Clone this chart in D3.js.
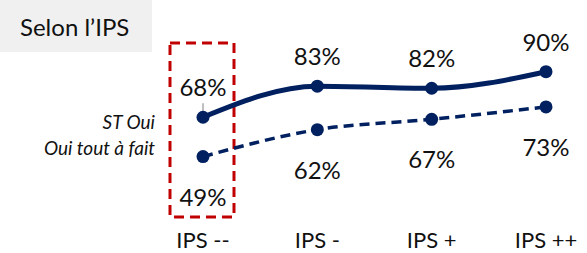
<!DOCTYPE html>
<html>
  <head>
    <meta charset="utf-8">
    <title>Selon l'IPS</title>
    <script src="https://d3js.org/d3.v7.min.js"></script>
    <style>
      body { margin: 0; background: #fff; }
      text { font-family: Lato, "Open Sans", sans-serif; fill: #111; }
    </style>
  </head>
  <body>
    <div class="chart"></div>
    <script>
      // data
      var categories = ["IPS --", "IPS -", "IPS +", "IPS ++"];
      var stOui = [68, 83, 82, 90];
      var ouiToutAFait = [49, 62, 67, 73];
      var seriesNames = ["ST Oui", "Oui tout à fait"];

      var width = 587, height = 253;
      var navy = "#002060";

      var svg = d3.select(".chart").append("svg")
        .attr("width", width)
        .attr("height", height);

      var x = d3.scalePoint()
        .domain(categories)
        .range([203, 546]);

      var y = d3.scaleLinear()
        .domain([0, 100])
        .range([258, 51]);

      // title box
      svg.append("rect")
        .attr("x", 0).attr("y", 0)
        .attr("width", 152).attr("height", 52)
        .attr("fill", "#f0f0f0");
      svg.append("text")
        .attr("x", 20).attr("y", 36)
        .style("font-size", "24px")
        .text("Selon l’IPS");

      // highlight box round first category
      svg.append("rect")
        .attr("x", x(categories[0]) - 33).attr("y", 43)
        .attr("width", 64).attr("height", 174)
        .attr("fill", "none")
        .attr("stroke", "#c00000")
        .attr("stroke-width", 3)
        .attr("stroke-dasharray", "10,6");

      var line = d3.line()
        .x(function(d, i) { return x(categories[i]); })
        .y(function(d) { return y(d); })
        .curve(d3.curveMonotoneX);

      // leader tick above first point
      svg.append("line")
        .attr("x1", x(categories[0])).attr("x2", x(categories[0]))
        .attr("y1", y(stOui[0]) - 14).attr("y2", y(stOui[0]) - 6)
        .attr("stroke", "#aaa").attr("stroke-width", 1.5);

      // solid series
      svg.append("path")
        .datum(stOui)
        .attr("d", line)
        .attr("fill", "none")
        .attr("stroke", navy)
        .attr("stroke-width", 5);

      svg.selectAll(".dot-a")
        .data(stOui)
        .enter().append("circle")
          .attr("cx", function(d, i) { return x(categories[i]); })
          .attr("cy", function(d) { return y(d); })
          .attr("r", 6.5)
          .attr("fill", navy);

      svg.selectAll(".lab-a")
        .data(stOui)
        .enter().append("text")
          .attr("x", function(d, i) { return x(categories[i]); })
          .attr("y", function(d) { return y(d) - 21; })
          .attr("text-anchor", "middle")
          .style("font-size", "24px")
          .text(function(d) { return d + "%"; });

      // dashed series
      svg.append("path")
        .datum(ouiToutAFait)
        .attr("d", line)
        .attr("fill", "none")
        .attr("stroke", navy)
        .attr("stroke-width", 3.5)
        .attr("stroke-dasharray", "10,6");

      svg.selectAll(".dot-b")
        .data(ouiToutAFait)
        .enter().append("circle")
          .attr("cx", function(d, i) { return x(categories[i]); })
          .attr("cy", function(d) { return y(d); })
          .attr("r", 6.5)
          .attr("fill", navy);

      svg.selectAll(".lab-b")
        .data(ouiToutAFait)
        .enter().append("text")
          .attr("x", function(d, i) { return x(categories[i]); })
          .attr("y", function(d) { return y(d) + 49; })
          .attr("text-anchor", "middle")
          .style("font-size", "24px")
          .text(function(d) { return d + "%"; });

      // series names on the left
      svg.selectAll(".name")
        .data(seriesNames)
        .enter().append("text")
          .attr("x", 155)
          .attr("y", function(d, i) { return 129 + i * 26; })
          .attr("text-anchor", "end")
          .style("font-size", "19px")
          .style("font-style", "italic")
          .text(function(d) { return d; });

      // category axis labels
      svg.selectAll(".cat")
        .data(categories)
        .enter().append("text")
          .attr("x", function(d) { return x(d); })
          .attr("y", 248)
          .attr("text-anchor", "middle")
          .style("font-size", "22px")
          .text(function(d) { return d; });
    </script>
  </body>
</html>
